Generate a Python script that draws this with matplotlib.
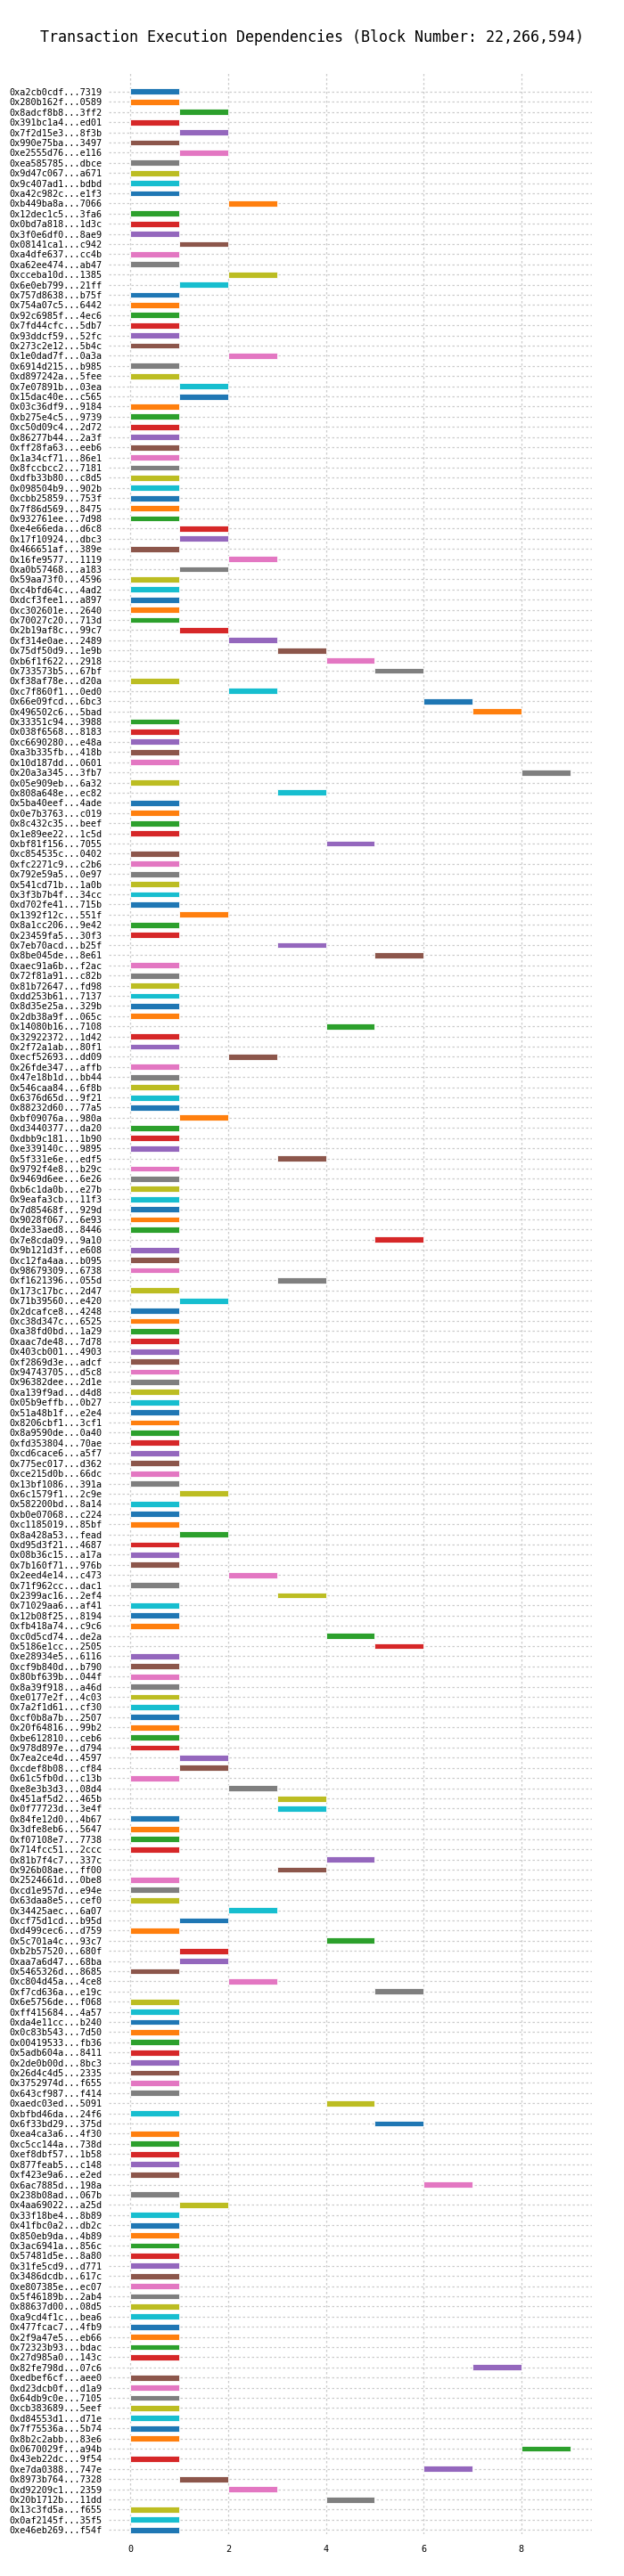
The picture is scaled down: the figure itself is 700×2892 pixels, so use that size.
import matplotlib
matplotlib.use("Agg")
import matplotlib.pyplot as plt

block_number = 22266594

tx_labels = [
    "0xa2cb0cdf...7319", "0x280b162f...0589", "0x8adcf8b8...3ff2", "0x391bc1a4...ed01",
    "0x7f2d15e3...8f3b", "0x990e75ba...3497", "0xe2555d76...e116", "0xea585785...dbce",
    "0x9d47c067...a671", "0x9c407ad1...bdbd", "0xa42c982c...e1f3", "0xb449ba8a...7066",
    "0x12dec1c5...3fa6", "0x0bd7a818...1d3c", "0x3f0e6df0...8ae9", "0x08141ca1...c942",
    "0xa4dfe637...cc4b", "0xa62ee474...ab47", "0xcceba10d...1385", "0x6e0eb799...21ff",
    "0x757d8638...b75f", "0x754a07c5...6442", "0x92c6985f...4ec6", "0x7fd44cfc...5db7",
    "0x93ddcf59...52fc", "0x273c2e12...5b4c", "0x1e0dad7f...0a3a", "0x6914d215...b985",
    "0xd897242a...5fee", "0x7e07891b...03ea", "0x15dac40e...c565", "0x03c36df9...9184",
    "0xb275e4c5...9739", "0xc50d09c4...2d72", "0x86277b44...2a3f", "0xff28fa63...eeb6",
    "0x1a34cf71...86e1", "0x8fccbcc2...7181", "0xdfb33b80...c8d5", "0x098504b9...902b",
    "0xcbb25859...753f", "0x7f86d569...8475", "0x932761ee...7d98", "0xe4e66eda...d6c8",
    "0x17f10924...dbc3", "0x466651af...389e", "0x16fe9577...1119", "0xa0b57468...a183",
    "0x59aa73f0...4596", "0xc4bfd64c...4ad2", "0xdcf3fee1...a897", "0xc302601e...2640",
    "0x70027c20...713d", "0x2b19af8c...99c7", "0xf314e0ae...2489", "0x75df50d9...1e9b",
    "0xb6f1f622...2918", "0x733573b5...67bf", "0xf38af78e...d20a", "0xc7f860f1...0ed0",
    "0x66e09fcd...6bc3", "0x496502c6...5bad", "0x33351c94...3988", "0x038f6568...8183",
    "0xc6690280...e48a", "0xa3b335fb...418b", "0x10d187dd...0601", "0x20a3a345...3fb7",
    "0x05e909eb...6a32", "0x808a648e...ec82", "0x5ba40eef...4ade", "0x0e7b3763...c019",
    "0x8c432c35...beef", "0x1e89ee22...1c5d", "0xbf81f156...7055", "0xc854535c...0402",
    "0xfc2271c9...c2b6", "0x792e59a5...0e97", "0x541cd71b...1a0b", "0x3f3b7b4f...34cc",
    "0xd702fe41...715b", "0x1392f12c...551f", "0x8a1cc206...9e42", "0x23459fa5...30f3",
    "0x7eb70acd...b25f", "0x8be045de...8e61", "0xaec91a6b...f2ac", "0x72f81a91...c82b",
    "0x81b72647...fd98", "0xdd253b61...7137", "0x8d35e25a...329b", "0x2db38a9f...065c",
    "0x14080b16...7108", "0x32922372...1d42", "0x2f72a1ab...80f1", "0xecf52693...dd09",
    "0x26fde347...affb", "0x47e18b1d...bb44", "0x546caa84...6f8b", "0x6376d65d...9f21",
    "0x88232d60...77a5", "0xbf09076a...980a", "0xd3440377...da20", "0xdbb9c181...1b90",
    "0xe339140c...9895", "0x5f331e6e...edf5", "0x9792f4e8...b29c", "0x9469d6ee...6e26",
    "0xb6c1da0b...e27b", "0x9eafa3cb...11f3", "0x7d85468f...929d", "0x9028f067...6e93",
    "0xde33aed8...8446", "0x7e8cda09...9a10", "0x9b121d3f...e608", "0xc12fa4aa...b095",
    "0x98679309...6738", "0xf1621396...055d", "0x173c17bc...2d47", "0x71b39560...e420",
    "0x2dcafce8...4248", "0xc38d347c...6525", "0xa38fd0bd...1a29", "0xaac7de48...7d78",
    "0x403cb001...4903", "0xf2869d3e...adcf", "0x94743705...d5c8", "0x96382dee...2d1e",
    "0xa139f9ad...d4d8", "0x05b9effb...0b27", "0x51a48b1f...e2e4", "0x8206cbf1...3cf1",
    "0x8a9590de...0a40", "0xfd353804...70ae", "0xcd6cace6...a5f7", "0x775ec017...d362",
    "0xce215d0b...66dc", "0x13bf1086...391a", "0x6c1579f1...2c9e", "0x582200bd...8a14",
    "0xb0e07068...c224", "0xc1185019...85bf", "0x8a428a53...fead", "0xd95d3f21...4687",
    "0x08b36c15...a17a", "0x7b160f71...976b", "0x2eed4e14...c473", "0x71f962cc...dac1",
    "0x2399ac16...2ef4", "0x71029aa6...af41", "0x12b08f25...8194", "0xfb418a74...c9c6",
    "0xc0d5cd74...de2a", "0x5186e1cc...2505", "0xe28934e5...6116", "0xcf9b840d...b790",
    "0x80bf639b...044f", "0x8a39f918...a46d", "0xe0177e2f...4c03", "0x7a2f1d61...cf30",
    "0xcf0b8a7b...2507", "0x20f64816...99b2", "0xbe612810...ceb6", "0x978d897e...d794",
    "0x7ea2ce4d...4597", "0xcdef8b08...cf84", "0x61c5fb0d...c13b", "0xe8e3b3d3...08d4",
    "0x451af5d2...465b", "0x0f77723d...3e4f", "0x84fe12d0...4b67", "0x3dfe8eb6...5647",
    "0xf07108e7...7738", "0x714fcc51...2ccc", "0x81b7f4c7...337c", "0x926b08ae...ff00",
    "0x2524661d...0be8", "0xcd1e957d...e94e", "0x63daa8e5...cef0", "0x34425aec...6a07",
    "0xcf75d1cd...b95d", "0xd499cec6...d759", "0x5c701a4c...93c7", "0xb2b57520...680f",
    "0xaa7a6d47...68ba", "0x5465326d...8685", "0xc804d45a...4ce8", "0xf7cd636a...e19c",
    "0x6e5756de...f068", "0xff415684...4a57", "0xda4e11cc...b240", "0x0c83b543...7d50",
    "0x00419533...fb36", "0x5adb604a...8411", "0x2de0b00d...8bc3", "0x26d4c4d5...2335",
    "0x3752974d...f655", "0x643cf987...f414", "0xaedc03ed...5091", "0xbfbd46da...24f6",
    "0x6f33bd29...375d", "0xea4ca3a6...4f30", "0xc5cc144a...738d", "0xef8dbf57...1b58",
    "0x877feab5...c148", "0xf423e9a6...e2ed", "0x6ac7885d...198a", "0x238b08ad...067b",
    "0x4aa69022...a25d", "0x33f18be4...8b89", "0x41fbc0a2...db2c", "0x850eb9da...4b89",
    "0x3ac6941a...856c", "0x57481d5e...8a80", "0x31fe5cd9...d771", "0x3486dcdb...617c",
    "0xe807385e...ec07", "0x5f46189b...2ab4", "0x88637d00...08d5", "0xa9cd4f1c...bea6",
    "0x477fcac7...4fb9", "0x2f9a47e5...eb66", "0x72323b93...bdac", "0x27d985a0...143c",
    "0x82fe798d...07c6", "0xedbef6cf...aee0", "0xd23dcb0f...d1a9", "0x64db9c0e...7105",
    "0xcb383689...5eef", "0xd84553d1...d71e", "0x7f75536a...5b74", "0x8b2c2abb...83e6",
    "0x0670029f...a94b", "0x43eb22dc...9f54", "0xe7da0388...747e", "0x8973b764...7328",
    "0xd92209c1...2359", "0x20b1712b...11dd", "0x13c3fd5a...f655", "0x0af2145f...35f5",
    "0xe46eb269...f54f",
]

# execution step at which each transaction starts
start_steps = [
    0, 0, 1, 0, 1, 0, 1, 0, 0, 0, 0, 2, 0, 0, 0, 1, 0, 0, 2, 1,
    0, 0, 0, 0, 0, 0, 2, 0, 0, 1, 1, 0, 0, 0, 0, 0, 0, 0, 0, 0,
    0, 0, 0, 1, 1, 0, 2, 1, 0, 0, 0, 0, 0, 1, 2, 3, 4, 5, 0, 2,
    6, 7, 0, 0, 0, 0, 0, 8, 0, 3, 0, 0, 0, 0, 4, 0, 0, 0, 0, 0,
    0, 1, 0, 0, 3, 5, 0, 0, 0, 0, 0, 0, 4, 0, 0, 2, 0, 0, 0, 0,
    0, 1, 0, 0, 0, 3, 0, 0, 0, 0, 0, 0, 0, 5, 0, 0, 0, 3, 0, 1,
    0, 0, 0, 0, 0, 0, 0, 0, 0, 0, 0, 0, 0, 0, 0, 0, 0, 0, 1, 0,
    0, 0, 1, 0, 0, 0, 2, 0, 3, 0, 0, 0, 4, 5, 0, 0, 0, 0, 0, 0,
    0, 0, 0, 0, 1, 1, 0, 2, 3, 3, 0, 0, 0, 0, 4, 3, 0, 0, 0, 2,
    1, 0, 4, 1, 1, 0, 2, 5, 0, 0, 0, 0, 0, 0, 0, 0, 0, 0, 4, 0,
    5, 0, 0, 0, 0, 0, 6, 0, 1, 0, 0, 0, 0, 0, 0, 0, 0, 0, 0, 0,
    0, 0, 0, 0, 7, 0, 0, 0, 0, 0, 0, 0, 8, 0, 6, 1, 2, 4, 0, 0,
    0,
]
duration = 1

fig = plt.figure(figsize=(7, 28.92), dpi=100)
ax = fig.add_axes([0.174, 0.0163, 0.775, 0.956])

mono = "DejaVu Sans Mono"
n = len(tx_labels)
rows = list(range(n))
colors = ["C%d" % (i % 10) for i in rows]

ax.barh(rows, duration, left=start_steps, height=0.6, color=colors,
        edgecolor="white", linewidth=0.6, zorder=3)

ax.set_yticks(rows)
ax.set_yticklabels(tx_labels, fontfamily=mono, fontsize=7.3)
ax.set_xticks([0, 2, 4, 6, 8])
ax.set_xticklabels(["0", "2", "4", "6", "8"], fontfamily=mono, fontsize=7.3)
ax.set_xlim(-0.45, 9.45)
ax.set_ylim(n - 0.6, -2)

ax.grid(True, linestyle=(0, (2, 2)), color="#cccccc", linewidth=0.9, zorder=0)
ax.set_axisbelow(True)
ax.tick_params(axis="both", length=0)
ax.tick_params(axis="y", pad=5)
ax.tick_params(axis="x", pad=9)
for s in ax.spines.values():
    s.set_visible(False)

fig.suptitle("Transaction Execution Dependencies (Block Number: {:,})".format(block_number),
             fontfamily=mono, fontsize=12, y=0.9885)

fig.savefig("out.png", dpi=100)
